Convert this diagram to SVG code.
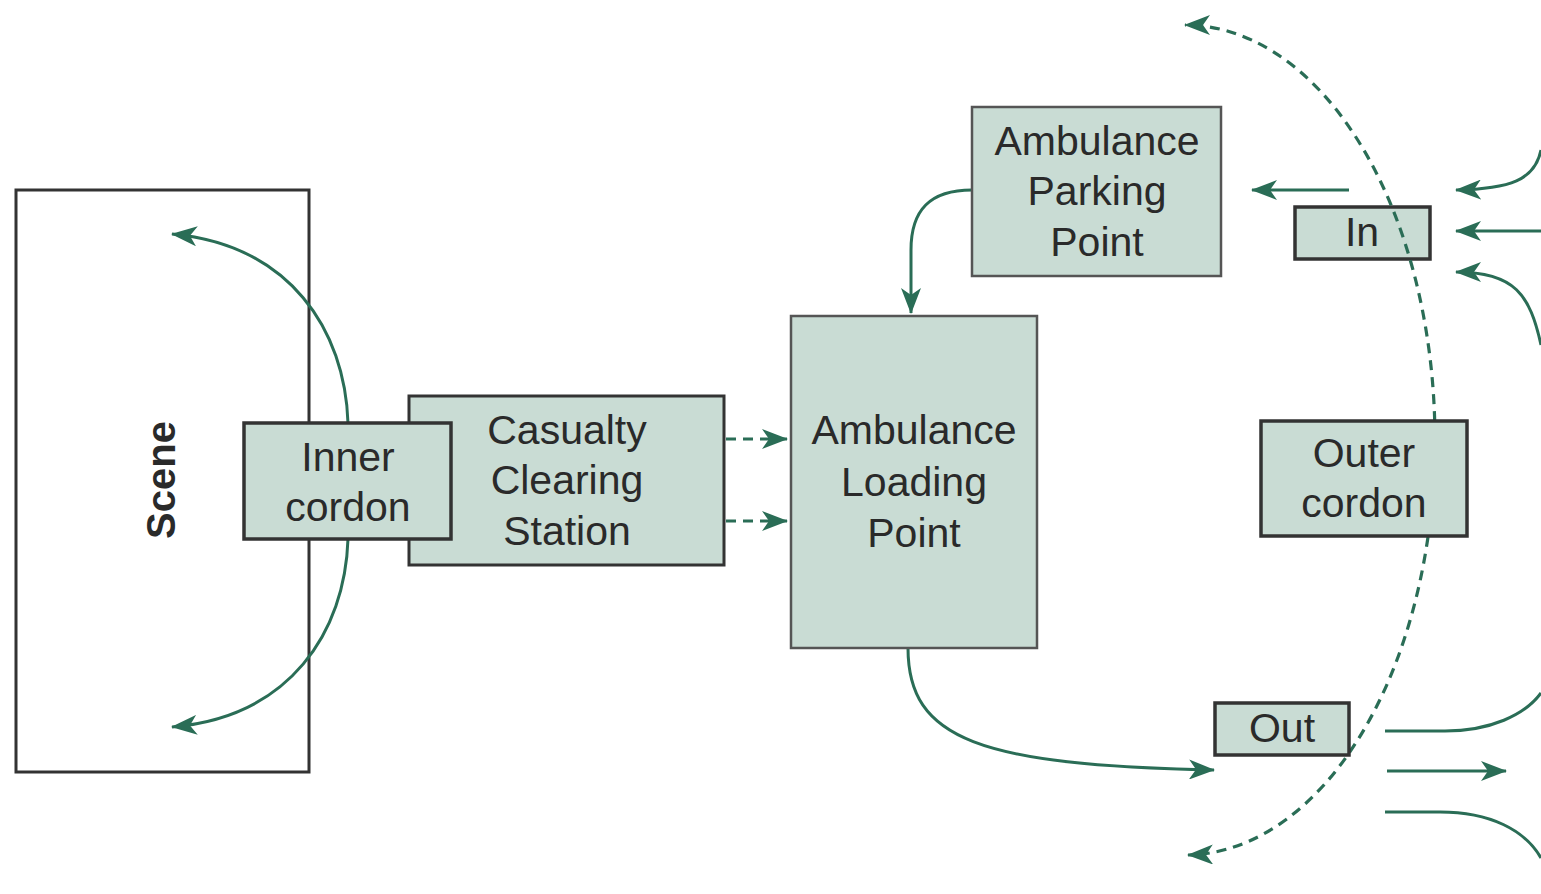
<svg xmlns="http://www.w3.org/2000/svg" width="1541" height="894" viewBox="0 0 1541 894">
<style>
.box{fill:#c9dcd4;stroke:#333;stroke-width:3}
.thin{stroke:#555;stroke-width:2.5}
.thick{stroke-width:3.5}
.lbl{font-family:"Liberation Sans",Arial,sans-serif;font-size:41px;fill:#2a2a2a;text-anchor:middle}
.c{fill:none;stroke:#2a6d56;stroke-width:3}
.d{stroke-dasharray:10 7;stroke-width:3.2}
</style>
<defs>
<marker id="ah" markerUnits="userSpaceOnUse" viewBox="0 0 26 20" refX="25" refY="10" markerWidth="26" markerHeight="20" orient="auto">
<path d="M0,0 L26,10 L0,20 L7,10 Z" fill="#2a6d56"/>
</marker>
</defs>
<rect width="1541" height="894" fill="#fff"/>
<g id="scene">
<rect x="16" y="190" width="293" height="582" fill="#fff" stroke="#333" stroke-width="3"/>
<text transform="translate(175,480) rotate(-90)" style="font-family:'Liberation Sans',Arial,sans-serif;font-size:40px;font-weight:bold;fill:#2a2a2a;text-anchor:middle">Scene</text>
</g>
<g id="in">
<rect class="box thick" x="1295" y="207" width="135" height="52"/>
<text class="lbl" x="1362" y="246">In</text>
</g>
<g id="connectors">
<path class="c" d="M348,423 C345,330 290,245 172,234" marker-end="url(#ah)"/>
<path class="c" d="M348,539 C345,632 290,717 172,727" marker-end="url(#ah)"/>
<path class="c d" d="M726,439 L787,439" marker-end="url(#ah)"/>
<path class="c d" d="M726,521 L787,521" marker-end="url(#ah)"/>
<path class="c" d="M972,190 C930,190 911,210 911,250 L911,313" marker-end="url(#ah)"/>
<path class="c" d="M1349,190 L1252,190" marker-end="url(#ah)"/>
<path class="c" d="M908,648 C908,740 980,765 1214,770" marker-end="url(#ah)"/>
<path class="c" d="M1541,150 C1535,180 1510,189 1456,190" marker-end="url(#ah)"/>
<path class="c" d="M1541,231 L1456,231" marker-end="url(#ah)"/>
<path class="c" d="M1541,345 C1530,295 1515,272 1456,272" marker-end="url(#ah)"/>
<path class="c" d="M1385,731 L1445,731 C1490,731 1525,715 1541,693"/>
<path class="c" d="M1387,771 L1506,771" marker-end="url(#ah)"/>
<path class="c" d="M1385,812 L1440,812 C1490,812 1525,830 1541,858"/>
<path class="c d" d="M1434.7,421 A250,415 0 0 0 1185,25" marker-end="url(#ah)"/>
<path class="c d" d="M1428,537 A250,415 0 0 1 1188,855" marker-end="url(#ah)"/>
</g>
<g id="ccs">
<rect class="box" x="409" y="396" width="315" height="169"/>
<text class="lbl" x="567" y="444">Casualty</text>
<text class="lbl" x="567" y="494">Clearing</text>
<text class="lbl" x="567" y="545">Station</text>
</g>
<g id="inner">
<rect class="box thick" x="244" y="423" width="207" height="116"/>
<text class="lbl" x="348" y="471">Inner</text>
<text class="lbl" x="348" y="521">cordon</text>
</g>
<g id="alp">
<rect class="box thin" x="791" y="316" width="246" height="332"/>
<text class="lbl" x="914" y="444">Ambulance</text>
<text class="lbl" x="914" y="496">Loading</text>
<text class="lbl" x="914" y="547">Point</text>
</g>
<g id="app">
<rect class="box thin" x="972" y="107" width="249" height="169"/>
<text class="lbl" x="1097" y="155">Ambulance</text>
<text class="lbl" x="1097" y="205">Parking</text>
<text class="lbl" x="1097" y="256">Point</text>
</g>
<g id="outer">
<rect class="box thick" x="1261" y="421" width="206" height="115"/>
<text class="lbl" x="1364" y="467">Outer</text>
<text class="lbl" x="1364" y="517">cordon</text>
</g>
<g id="out">
<rect class="box thick" x="1215" y="703" width="134" height="52"/>
<text class="lbl" x="1282" y="742">Out</text>
</g>
</svg>
